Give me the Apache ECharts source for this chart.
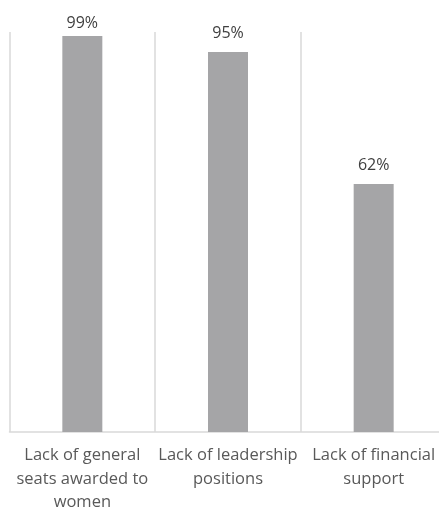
<!DOCTYPE html>
<html>
<head>
<meta charset="utf-8">
<script src="https://cdn.jsdelivr.net/npm/echarts@6/dist/echarts.min.js"></script>
<style>
  html, body { margin: 0; padding: 0; background: #fff; }
  #chart { width: 439px; height: 508px; }
</style>
</head>
<body>
<div id="chart"></div>
<script>
// Barriers to women's political participation (% of respondents)
const categories = [
  'Lack of general\nseats awarded to\nwomen',
  'Lack of leadership\npositions',
  'Lack of financial\nsupport'
];
const values = [99, 95, 62];

const chart = echarts.init(document.getElementById('chart'), null, { renderer: 'canvas' });

// the tallest bar's label sits closer to the bar so it stays inside the top margin
const seriesData = values.map((v, i) =>
  i === 0 ? { value: v, label: { distance: 5 } } : v
);

chart.setOption({
  animation: false,
  // the plot runs a little past the right edge of the canvas
  grid: {
    left: 9.5, width: 437, top: 32, height: 400,
    containLabel: false,
    outerBoundsMode: 'none'
  },
  xAxis: {
    type: 'category',
    data: categories,
    boundaryGap: true,
    axisLine: { show: true, lineStyle: { color: '#D9D9D9', width: 1.5 } },
    axisTick: { show: false },
    splitLine: { show: true, lineStyle: { color: '#D9D9D9', width: 1.5 } },
    axisLabel: {
      interval: 0,
      margin: 12,
      color: '#595959',
      fontFamily: 'Open Sans',
      fontSize: 16.5,
      lineHeight: 23.5
    }
  },
  yAxis: {
    type: 'value',
    min: 0,
    max: 100,
    show: false,
    splitLine: { show: false }
  },
  series: [{
    type: 'bar',
    data: seriesData,
    barWidth: 40,
    itemStyle: { color: '#A5A5A7' },
    label: {
      show: true,
      position: 'top',
      distance: 11,
      formatter: '{c}%',
      color: '#404040',
      fontFamily: 'Open Sans',
      fontSize: 16
    }
  }]
});
</script>
</body>
</html>
